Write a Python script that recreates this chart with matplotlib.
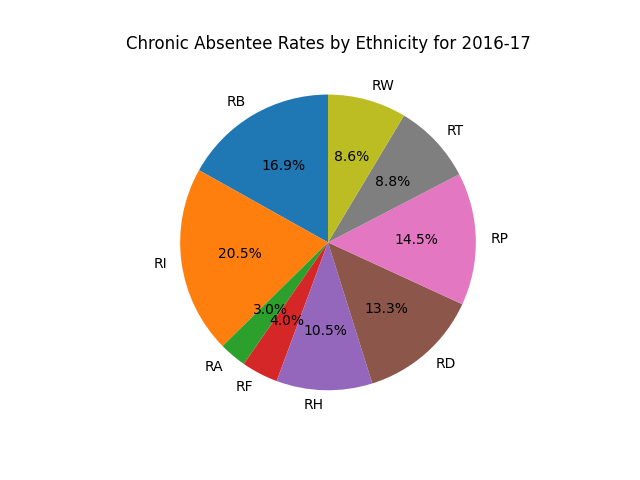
import matplotlib
matplotlib.use("Agg")
import matplotlib.pyplot as plt

labels = ["RB", "RI", "RA", "RF", "RH", "RD", "RP", "RT", "RW"]
values = [16.9, 20.5, 3.0, 4.0, 10.5, 13.3, 14.5, 8.8, 8.6]

fig, ax = plt.subplots(figsize=(6.4, 4.8), dpi=100)
ax.pie(values, labels=labels, autopct="%1.1f%%", startangle=90)
ax.set_title("Chronic Absentee Rates by Ethnicity for 2016-17")
fig.savefig("out.png")
